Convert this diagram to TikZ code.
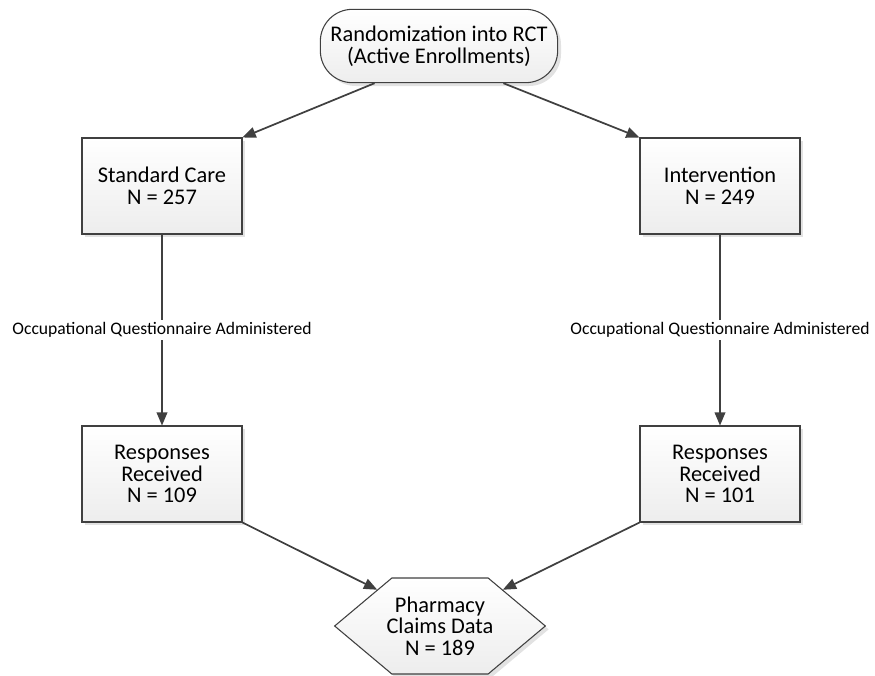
\documentclass[tikz,border=0pt]{standalone}
\usepackage{fontspec}
\setmainfont{Carlito}
\usepackage{xcolor}
\usepackage{tikz}
\usetikzlibrary{shapes.geometric, shapes.symbols, shapes.misc, arrows, shadows, positioning}
\definecolor{linegray}{HTML}{404040}
\tikzstyle{arrow} = [line width=1.3pt,->,>=triangle 45,draw=linegray]

\begin{document}
\begin{tikzpicture}[x=0.75pt,y=-0.75pt]
	% Define styles for the different elements of the flow chart
	\tikzstyle{boxfill} = [draw=linegray, line width=0.8pt, top color=white, bottom color=gray!14,
		drop shadow={shadow xshift=2.5pt, shadow yshift=-2.5pt, fill=gray!45, opacity=0.5},
		align=center, font=\fontsize{16.8}{16.2}\selectfont]
	\tikzstyle{start} = [boxfill, rectangle, rounded corners=24pt, minimum width=178pt, minimum height=55pt]
	\tikzstyle{group} = [boxfill, rectangle, minimum width=120pt, minimum height=72pt]
	\tikzstyle{final} = [boxfill, signal, signal to=west and east, signal pointer angle=80, minimum width=150pt, minimum height=72pt, inner xsep=-4pt]
	\tikzstyle{qlabel} = [fill=white, inner sep=2pt, font=\fontsize{13.2}{14}\selectfont]

	\useasboundingbox (0,0) rectangle (875,675);

	% Randomization
	\node[start] (rct) at (439,46) {Randomization into RCT\\(Active Enrollments)};

	% Arms
	\node[group] (sc) at (162,186) {Standard Care\\N = 257};
	\node[group] (iv) at (720,186) {Intervention\\N = 249};

	% Responses
	\node[group] (rl) at (162,474) {Responses\\Received\\N = 109};
	\node[group] (rr) at (720,474) {Responses\\Received\\N = 101};

	% Claims data
	\node[final] (pcd) at (440,626) {Pharmacy\\Claims Data\\N = 189};

	% Connectors
	\draw[arrow] (rct.210) -- (sc.north east);
	\draw[arrow] (rct.330) -- (iv.north west);
	\draw[arrow] (sc.south) -- node[qlabel] (ql) {Occupational Questionnaire Administered} (rl.north);
	\draw[arrow] (iv.south) -- node[qlabel] (qr) {Occupational Questionnaire Administered} (rr.north);
	\draw[arrow] (rl.south east) -- (pcd.150);
	\draw[arrow] (rr.south west) -- (pcd.30);
\end{tikzpicture}
\end{document}
